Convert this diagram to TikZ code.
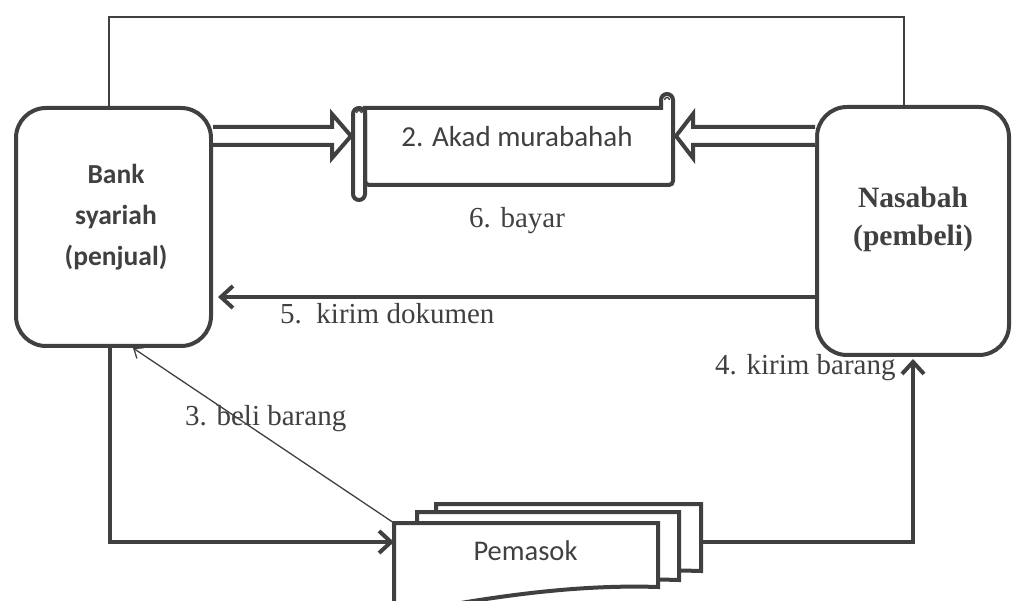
\documentclass[tikz,border=0pt]{standalone}
\usepackage{fontspec}
\setmainfont{Liberation Serif}
\newfontfamily\calibri{Carlito}
\usetikzlibrary{arrows.meta,calc}
\definecolor{ink}{RGB}{64,64,64}
\newcommand{\mydoc}[4]{% L T R B
  \filldraw[docline] (#1,#2) -- (#3,#2) -- (#3,#4)
    .. controls (#3-90,#4-3) and (#3-180,#4+12) .. (#1,#4+28) -- cycle;}
\begin{document}
\begin{tikzpicture}[x=1pt,y=-1pt,
  boxstyle/.style={draw=ink, line width=4pt, rounded corners=30pt, fill=white, inner sep=0pt},
  ghost/.style={inner sep=0pt, outer sep=0pt},
  thinline/.style={draw=ink, line width=1.6pt},
  flow/.style={draw=ink, line width=4pt, -{Straight Barb[length=12pt,width=22pt]}},
  thinflow/.style={draw=ink, line width=1.3pt, -{Straight Barb[length=8pt,width=13pt]}},
  blk/.style={draw=ink, line width=4pt, fill=white, line join=miter},
  scrollline/.style={draw=ink, line width=4pt},
  docline/.style={draw=ink, line width=4pt, fill=white},
  serif/.style={text=ink, inner sep=0pt, font=\fontsize{29}{34}\selectfont},
  sans/.style={text=ink, inner sep=0pt, font=\calibri\fontsize{29}{34}\selectfont}
]
\useasboundingbox (0,0) rectangle (1012,601);
\clip (0,0) rectangle (1012,601);

% boxes
\node[boxstyle, minimum width=195pt, minimum height=238pt] (bank) at (113.5,227) {};
\node[boxstyle, minimum width=192pt, minimum height=248pt] (nasabah) at (913,231) {};
\node[text=ink, inner sep=0pt, align=center, font=\calibri\bfseries\fontsize{27.5}{41}\selectfont] (banktxt) at (116,217) {Bank\\syariah\\(penjual)};
\node[text=ink, inner sep=0pt, align=center, font=\bfseries\fontsize{29.5}{38}\selectfont] (nastxt) at (913,219) {Nasabah\\(pembeli)};

% scroll (akad)
\node[ghost, minimum width=323pt, minimum height=108pt] (akad) at (513.5,147) {};
\draw[scrollline, fill=white] (365,108) -- (661,108) -- (661,100) arc (-180:0:6) -- (673,181)
  [rounded corners=4pt] -- (673,185) -- (365,185) [sharp corners] -- cycle;
\draw[scrollline, fill=white, rounded corners=6pt] (353,108) rectangle (365,200);
\draw[draw=ink, line width=1.4pt] (361.5,113) arc (0:-180:2.5);
\draw[draw=ink, line width=1.4pt] (669.5,100) arc (0:-180:2.5);
\node[sans, anchor=base] (akadtxt) at (517,147) {2. Akad murabahah};

% pemasok stack
\mydoc{436}{504}{701}{571}
\mydoc{417}{512}{679}{580}
\mydoc{394}{523}{658}{587}
\node[ghost, minimum width=264pt, minimum height=64pt] (pemasok) at (526,555) {};
\node[ghost, minimum width=265pt, minimum height=67pt] (pemback) at (568.5,537.5) {};
\node[sans, anchor=base, font=\calibri\fontsize{28.5}{34}\selectfont] (pemtxt) at (525.5,560) {Pemasok};

% top thin connector
\coordinate (tl) at (109,17);
\coordinate (tr) at (904,17);
\draw[thinline] (bank.north -| tl) -- (tl) -- (tr) -- (nasabah.north -| tr);

% block arrows
\coordinate (ya) at (0,136);
\coordinate (a1) at (bank.east |- ya);
\coordinate (t1) at ($(akad.west |- ya)+(-1,0)$);
\draw[blk] ($(a1)+(0,-9)$) -- ($(t1)+(-19,-9)$) -- ($(t1)+(-19,-22)$) -- (t1)
  -- ($(t1)+(-19,22)$) -- ($(t1)+(-19,9)$) -- ($(a1)+(0,9)$);
\coordinate (a2) at (nasabah.west |- ya);
\coordinate (t2) at ($(akad.east |- ya)+(1,0)$);
\draw[blk] ($(a2)+(0,-9)$) -- ($(t2)+(17,-9)$) -- ($(t2)+(17,-22)$) -- (t2)
  -- ($(t2)+(17,22)$) -- ($(t2)+(17,9)$) -- ($(a2)+(0,9)$);

% 5. kirim dokumen
\coordinate (r5) at (0,297);
\draw[flow, shorten >=5pt] (nasabah.west |- r5) -- (bank.east |- r5);

% bank -> pemasok
\coordinate (c1) at (110,542);
\draw[flow] (bank.south -| c1) -- (c1) -- (pemasok.west |- c1);

% pemasok -> nasabah
\coordinate (c4) at (913,542);
\draw[flow, shorten >=2pt] (pemback.east |- c4) -- (c4) -- (nasabah.south -| c4);

% 3. beli barang (thin)
\coordinate (c3) at (133,0);
\draw[thinflow] (pemasok.north west) -- (bank.south -| c3);

% labels
\node[serif, anchor=base] (lbl6) at (517,228) {6. bayar};
\node[serif, anchor=base west] (lbl5) at (280,324) {5.\ \ kirim dokumen};
\node[serif, anchor=base west] (lbl4) at (715,375) {4. kirim barang};
\node[serif, anchor=base west] (lbl3) at (185,425) {3. beli barang};
\end{tikzpicture}
\end{document}
